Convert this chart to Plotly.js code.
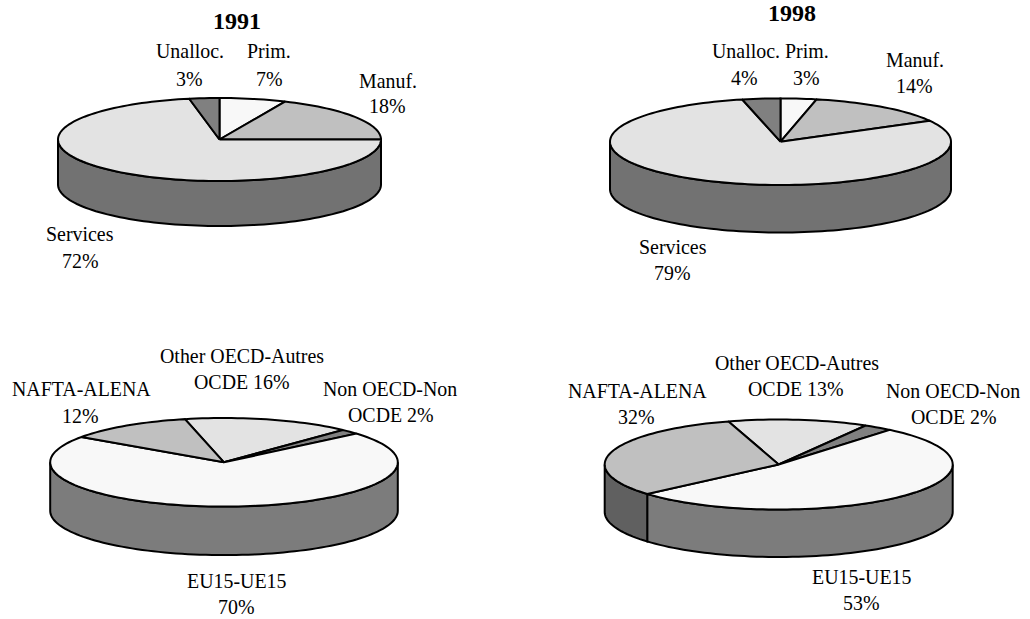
<!DOCTYPE html>
<html><head><meta charset="utf-8"><script src="https://cdn.plot.ly/plotly-3.0.1.min.js"></script>
<style>html,body{margin:0;padding:0;background:#fff}#c{width:1030px;height:619px}</style></head>
<body><div id="c"></div>
<script>
// DATA (percent shares, clockwise from the start slice)
const sectors1991 = ['Prim.', 'Manuf.', 'Services', 'Unalloc.'];
const values1991 = [6.65, 18.35, 72, 3];
const sectors1998 = ['Prim.', 'Manuf.', 'Services', 'Unalloc.'];
const values1998 = [3.4, 13.6, 79.4, 3.6];
const regions = ['Other OECD-Autres', 'Non OECD-Non', 'EU15-UE15', 'NAFTA-ALENA'];
const regions1991 = [15.6, 1.8, 70.9, 11.7];
const regions1998 = [13.0, 2.7, 52.6, 31.7];
const titles = ['1991', '1998'];

// STYLE / LAYOUT
const sectorFill = ['#f8f8f8', '#c0c0c0', '#e3e3e3', '#808080'];
const sectorWall = ['#7c7c7c', '#606060', '#727272', '#404040'];
const regionFill = ['#e3e3e3', '#808080', '#f8f8f8', '#c0c0c0'];
const regionWall = ['#727272', '#404040', '#7c7c7c', '#606060'];
const FONT = '"Liberation Serif", "Times New Roman", serif';
const pies = [
  {v: values1991, fill: sectorFill, wall: sectorWall, cx: 219.5, cy: 139.5, rx: 161.5, ry: 41.5, d: 45, start: 0},
  {v: values1998, fill: sectorFill, wall: sectorWall, cx: 780.5, cy: 141.7, rx: 170.5, ry: 43.3, d: 47.5, start: 0},
  {v: regions1991, fill: regionFill, wall: regionWall, cx: 224, cy: 462.3, rx: 173.8, ry: 44.3, d: 48.5, start: -13},
  {v: regions1998, fill: regionFill, wall: regionWall, cx: 778.7, cy: 464.5, rx: 174, ry: 45, d: 47.5, start: -16.8}
];
const labels = [
  ['Unalloc.', 190, 51], ['3%', 189, 79], ['Prim.', 269.3, 51], ['7%', 269, 79],
  ['Manuf.', 388, 81], ['18%', 387, 106], ['Services', 80, 234], ['72%', 79.5, 260.5],
  ['Unalloc.', 745.7, 51.3], ['4%', 744.3, 78.3], ['Prim.', 806.7, 51.3], ['3%', 806.7, 78.3],
  ['Manuf.', 915, 59.7], ['14%', 914.3, 86], ['Services', 672.7, 247.3], ['79%', 672, 273],
  ['Other OECD-Autres', 242.3, 355.7], ['OCDE 16%', 241.7, 382.3], ['NAFTA-ALENA', 81.7, 389], ['12%', 80, 415.7],
  ['Non OECD-Non', 390, 389], ['OCDE 2%', 390.7, 415], ['EU15-UE15', 236.7, 581.3], ['70%', 236, 607.3],
  ['Other OECD-Autres', 796.7, 363], ['OCDE 13%', 796, 389], ['NAFTA-ALENA', 637.7, 390.7], ['32%', 636, 417.3],
  ['Non OECD-Non', 952.7, 390.7], ['OCDE 2%', 954.3, 417.3], ['EU15-UE15', 861, 576.7], ['53%', 860.7, 603.3]
];
const titlePos = [[236.7, 20.7], [792.3, 13]];

const rad = a => a * Math.PI / 180;
const traces = [];
function arc(p, a0, a1, dy) {
  const n = Math.max(2, Math.ceil(Math.abs(a1 - a0) / 2));
  const xs = [], ys = [];
  for (let i = 0; i <= n; i++) {
    const a = rad(a0 + (a1 - a0) * i / n);
    xs.push(p.cx + p.rx * Math.sin(a));
    ys.push(p.cy - p.ry * Math.cos(a) + dy);
  }
  return [xs, ys];
}
function poly(xs, ys, fill) {
  traces.push({type: 'scatter', mode: 'lines', x: xs, y: ys, fill: 'toself', fillcolor: fill,
    line: {color: '#000', width: 2, simplify: false}, hoverinfo: 'skip', showlegend: false});
}
pies.forEach(p => {
  const total = p.v.reduce((s, x) => s + x, 0);
  let a = p.start;
  const spans = p.v.map(v => { const s = [a, a + v / total * 360]; a = s[1]; return s; });
  // side walls: only the front half of the disc, angles 90..270
  spans.forEach((s, i) => {
    for (const k of [0, 360, -360]) {
      const lo = Math.max(s[0] + k, 90), hi = Math.min(s[1] + k, 270);
      if (hi > lo) {
        const t = arc(p, lo, hi, 0), b = arc(p, hi, lo, p.d);
        poly(t[0].concat(b[0], [t[0][0]]), t[1].concat(b[1], [t[1][0]]), p.wall[i]);
      }
    }
  });
  // top faces
  spans.forEach((s, i) => {
    const t = arc(p, s[0], s[1], 0);
    poly([p.cx].concat(t[0], [p.cx]), [p.cy].concat(t[1], [p.cy]), p.fill[i]);
  });
});
const ann = labels.map(l => ({text: l[0], x: l[1], y: l[2], xref: 'x', yref: 'y', showarrow: false,
  xanchor: 'center', yanchor: 'middle', font: {family: FONT, size: 19.9, color: '#000'}}));
titles.forEach((t, i) => ann.push({text: '<b>' + t + '</b>', x: titlePos[i][0], y: titlePos[i][1], xref: 'x', yref: 'y',
  showarrow: false, xanchor: 'center', yanchor: 'middle', font: {family: FONT, size: 24, color: '#000'}}));
const hidden = r => ({range: r, visible: false, fixedrange: true});
Plotly.newPlot('c', traces, {
  width: 1030, height: 619, margin: {l: 0, r: 0, t: 0, b: 0},
  paper_bgcolor: '#fff', plot_bgcolor: '#fff',
  xaxis: hidden([0, 1030]), yaxis: hidden([619, 0]),
  annotations: ann, showlegend: false
}, {staticPlot: true});
</script></body></html>
